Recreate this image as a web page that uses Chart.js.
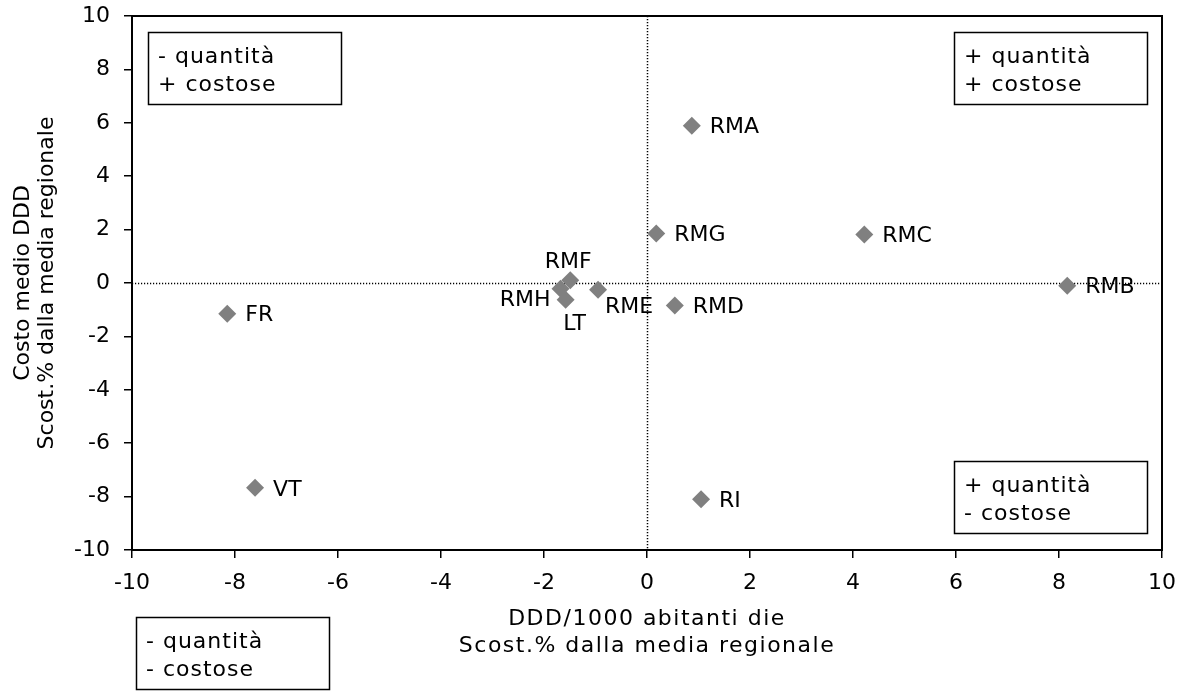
<!DOCTYPE html>
<html>
<head>
<meta charset="utf-8">
<script src="https://cdn.jsdelivr.net/npm/chart.js@4.4.1/dist/chart.umd.min.js"></script>
<style>
    html, body { margin: 0; padding: 0; background: #fff; }
    #wrap { width: 1195px; height: 692px; }
</style>
</head>
<body>
<div id="wrap"><canvas id="scatterChart"></canvas></div>
<script>
// data
const pointNames = ['RMA', 'RMB', 'RMC', 'RMD', 'RME', 'RMF', 'RMG', 'RMH', 'RI', 'LT', 'FR', 'VT'];
const dddDiff   = [0.87, 8.16, 4.22, 0.54, -0.95, -1.49, 0.18, -1.68, 1.05, -1.58, -8.15, -7.61];
const costDiff  = [5.89, -0.10, 1.82, -0.84, -0.25, 0.10, 1.85, -0.22, -8.10, -0.63, -1.15, -7.67];

const xTickValues = [-10, -8, -6, -4, -2, 0, 2, 4, 6, 8, 10];
const yTickValues = [-10, -8, -6, -4, -2, 0, 2, 4, 6, 8, 10];

const xTitleLines = ['DDD/1000 abitanti die', 'Scost.% dalla media regionale'];
const yTitleLines = ['Costo medio DDD', 'Scost.% dalla media regionale'];

// quadrant notes
const notesTopLeft     = ['- quantità', '+ costose'];
const notesTopRight    = ['+ quantità', '+ costose'];
const notesBottomRight = ['+ quantità', '- costose'];
const notesBottomLeft  = ['- quantità', '- costose'];

const FONT = '22px "DejaVu Sans", Verdana, sans-serif';

document.addEventListener("DOMContentLoaded", function () {

    const canvas = document.getElementById("scatterChart");
    if (!canvas) {
        console.log("scatterChart NOT found");
        return;
    }

    // where each name sits around its marker (default: right of it)
    const placement = {
        RMF: { dx: -2, dy: -18, align: 'center' },
        RMH: { dx: -10, dy: 11, align: 'right' },
        LT:  { dx: 9, dy: 24, align: 'center' },
        RME: { dx: 31, dy: 18, align: 'center' }
    };

    function drawNote(ctx, lines, left, top) {
        ctx.lineWidth = 1.5;
        ctx.strokeStyle = '#000';
        ctx.strokeRect(left + 0.5, top + 0.5, 193, 72);
        ctx.fillStyle = '#000';
        ctx.textAlign = 'left';
        ctx.textBaseline = 'middle';
        lines.forEach((t, i) => ctx.fillText(t, left + 10, top + 25 + i * 28));
    }

    const quadrantPlugin = {
        id: 'quadrants',
        beforeDatasetsDraw(chart) {
            const { ctx, chartArea: a, scales } = chart;
            const x0 = Math.round(scales.x.getPixelForValue(0)) + 0.5;
            const y0 = Math.round(scales.y.getPixelForValue(0)) + 0.5;
            ctx.save();
            ctx.strokeStyle = '#000';
            ctx.lineWidth = 1.5;
            ctx.setLineDash([1.2, 1.8]);
            ctx.beginPath();
            ctx.moveTo(x0, a.top);
            ctx.lineTo(x0, a.bottom);
            ctx.moveTo(a.left, y0);
            ctx.lineTo(a.right, y0);
            ctx.stroke();
            ctx.restore();
        },
        afterDatasetsDraw(chart) {
            const { ctx } = chart;
            const meta = chart.getDatasetMeta(0);
            ctx.save();
            ctx.font = FONT;
            ctx.fillStyle = '#000';
            ctx.textBaseline = 'middle';
            meta.data.forEach((pt, i) => {
                const p = placement[pointNames[i]] || { dx: 18, dy: 2, align: 'left' };
                ctx.textAlign = p.align;
                ctx.fillText(pointNames[i], pt.x + p.dx, pt.y + p.dy);
            });
            ctx.restore();
        },
        afterDraw(chart) {
            const { ctx, chartArea: a } = chart;
            ctx.save();
            // plot frame
            ctx.strokeStyle = '#000';
            ctx.lineWidth = 2;
            ctx.strokeRect(a.left, a.top, a.right - a.left, a.bottom - a.top);

            // notes
            ctx.font = FONT;
            ctx.letterSpacing = '1px';
            drawNote(ctx, notesTopLeft, a.left + 16, a.top + 16);
            drawNote(ctx, notesTopRight, a.right - 208, a.top + 16);
            drawNote(ctx, notesBottomRight, a.right - 208, a.bottom - 89);
            drawNote(ctx, notesBottomLeft, a.left + 4, a.bottom + 67);

            // axis titles
            ctx.fillStyle = '#000';
            ctx.textAlign = 'center';
            ctx.textBaseline = 'middle';
            ctx.letterSpacing = '1.5px';
            const cx = (a.left + a.right) / 2;
            xTitleLines.forEach((t, i) => ctx.fillText(t, cx, a.bottom + 69 + i * 27));

            ctx.letterSpacing = '0px';
            ctx.translate(0, (a.top + a.bottom) / 2);
            ctx.rotate(-Math.PI / 2);
            yTitleLines.forEach((t, i) => ctx.fillText(t, 0, 23 + i * 24));
            ctx.restore();
        }
    };

    new Chart(canvas.getContext("2d"), {
        type: 'scatter',
        data: {
            datasets: [{
                label: 'ASL',
                data: dddDiff.map((v, i) => ({ x: v, y: costDiff[i] })),
                pointStyle: 'rectRot',
                pointRadius: 9,
                pointHoverRadius: 9,
                backgroundColor: '#808080',
                borderColor: '#808080',
                borderWidth: 0
            }]
        },
        options: {
            responsive: true,
            maintainAspectRatio: false,
            animation: false,
            layout: { padding: { top: 16, right: 33, left: 0, bottom: 0 } },
            plugins: {
                legend: { display: false },
                tooltip: { enabled: false }
            },
            scales: {
                x: {
                    type: 'linear',
                    min: xTickValues[0],
                    max: xTickValues[xTickValues.length - 1],
                    afterBuildTicks: axis => { axis.ticks = xTickValues.map(v => ({ value: v })); },
                    afterFit: axis => {
                        axis.height = 142;
                        axis.paddingLeft = 0;
                        axis.paddingRight = 0;
                    },
                    border: { display: false },
                    grid: { drawOnChartArea: false, tickLength: 8, color: '#000', lineWidth: 1.5 },
                    ticks: {
                        color: '#000',
                        padding: 12,
                        maxRotation: 0,
                        font: { family: '"DejaVu Sans", Verdana, sans-serif', size: 22 }
                    }
                },
                y: {
                    type: 'linear',
                    min: yTickValues[0],
                    max: yTickValues[yTickValues.length - 1],
                    afterBuildTicks: axis => { axis.ticks = yTickValues.map(v => ({ value: v })); },
                    afterFit: axis => {
                        axis.width = 132;
                        axis.paddingTop = 0;
                        axis.paddingBottom = 0;
                    },
                    border: { display: false },
                    grid: { drawOnChartArea: false, tickLength: 8, color: '#000', lineWidth: 1.5 },
                    ticks: {
                        color: '#000',
                        padding: 14,
                        font: { family: '"DejaVu Sans", Verdana, sans-serif', size: 22 }
                    }
                }
            }
        },
        plugins: [quadrantPlugin]
    });

});
</script>
</body>
</html>
